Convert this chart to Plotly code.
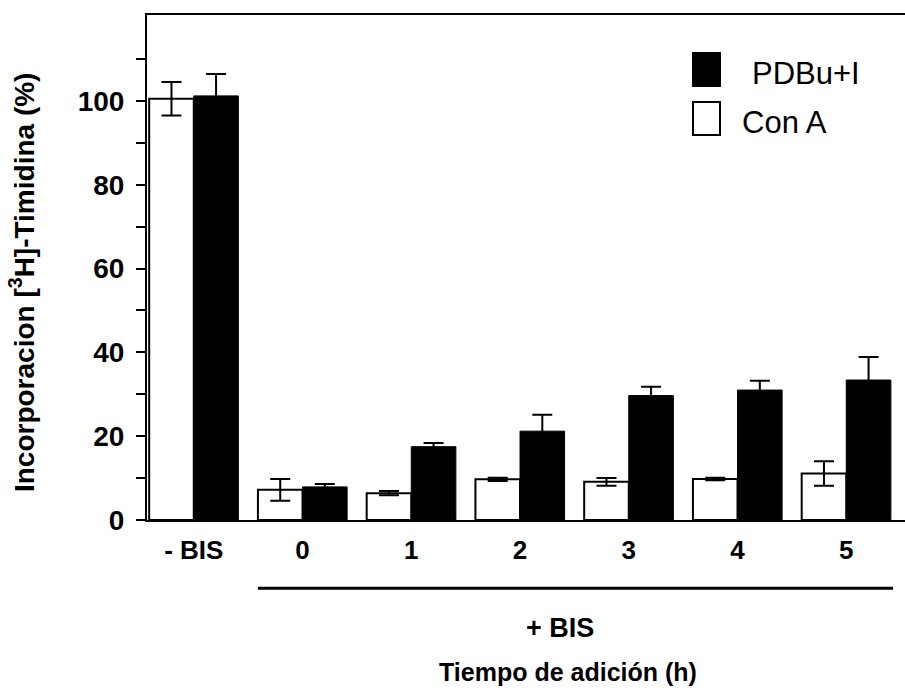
import plotly.graph_objects as go

categories = ["- BIS", "0", "1", "2", "3", "4", "5"]
cona_values = [100.5, 7.2, 6.4, 9.7, 9.1, 9.8, 11.1]
cona_errors = [4.0, 2.6, 0.5, 0.4, 0.9, 0.3, 2.9]
pdbu_values = [101.2, 7.9, 17.5, 21.2, 29.7, 31.0, 33.4]
pdbu_errors = [5.2, 0.7, 0.9, 3.9, 2.1, 2.2, 5.5]
y_tickvals = [0, 20, 40, 60, 80, 100]
y_minorvals = [10, 30, 50, 70, 90, 110]

FONT = "Liberation Sans"

fig = go.Figure()
fig.add_trace(go.Bar(
    x=categories, y=cona_values, name="Con A",
    marker=dict(color="white", line=dict(color="black", width=2)),
    error_y=dict(type="data", array=cona_errors, color="black", thickness=2, width=10),
    showlegend=False,
))
fig.add_trace(go.Bar(
    x=categories, y=pdbu_values, name="PDBu+I",
    marker=dict(color="black", line=dict(color="black", width=1)),
    error_y=dict(type="data", array=pdbu_errors, color="black", thickness=2, width=10),
    showlegend=False,
))

fig.update_layout(
    width=905, height=697,
    margin=dict(l=147, r=0, t=15, b=177),
    paper_bgcolor="white", plot_bgcolor="white",
    barmode="group", bargap=0.18, bargroupgap=0,
    font=dict(family=FONT, color="black"),
)
fig.update_xaxes(
    type="category", range=[-0.43, 6.54],
    showline=True, linecolor="black", linewidth=2, mirror=True,
    ticks="", showgrid=False, zeroline=False,
    tickfont=dict(family=FONT, size=26, color="black", weight="bold"),
    ticklabelstandoff=6,
)
fig.update_yaxes(
    range=[0, 120.5],
    showline=True, linecolor="black", linewidth=2,
    tickvals=y_tickvals, ticks="outside", ticklen=9, tickwidth=2, tickcolor="black",
    minor=dict(tickvals=y_minorvals, ticks="outside", ticklen=9, tickwidth=2, tickcolor="black"),
    showgrid=False, zeroline=False,
    tickfont=dict(family=FONT, size=28, color="black", weight="bold"),
    ticklabelstandoff=6,
)

# "+ BIS" bracket line under categories 0-5
fig.add_shape(type="line", xref="x", yref="paper", x0=0.59, x1=6.43, y0=-0.135, y1=-0.135,
              line=dict(color="black", width=3))

fig.add_annotation(text="+ BIS", xref="paper", yref="paper", x=0.545, y=-0.214,
                   showarrow=False, xanchor="center", yanchor="middle",
                   font=dict(family=FONT, size=27, weight="bold"))
fig.add_annotation(text="Tiempo de adición (h)", xref="paper", yref="paper", x=0.556, y=-0.30,
                   showarrow=False, xanchor="center", yanchor="middle",
                   font=dict(family=FONT, size=25, weight="bold"))
fig.add_annotation(text="Incorporacion [<sup>3</sup>H]-Timidina (%)", xref="paper", yref="paper",
                   x=-0.165, y=0.471, textangle=-90, showarrow=False,
                   xanchor="center", yanchor="middle",
                   font=dict(family=FONT, size=28, weight="bold"))

# Legend (manual, large swatches)
legend_items = [("PDBu+I", "black", 0.0), ("Con A", "white", 1.0)]
for label, color, row in legend_items:
    y_top = 1 - (53 - 15 + row * 49) / 505
    y_bot = y_top - 33 / 505
    fig.add_shape(type="rect", xref="paper", yref="paper",
                  x0=(693 - 147) / 758, x1=(720 - 147) / 758, y0=y_bot, y1=y_top,
                  fillcolor=color, line=dict(color="black", width=2))
    fig.add_annotation(text=label, xref="paper", yref="paper",
                       x=(740 - 147) / 758 if row else (750 - 147) / 758,
                       y=(y_top + y_bot) / 2 - 4 / 505, showarrow=False,
                       xanchor="left", yanchor="middle",
                       font=dict(family=FONT, size=31))

fig.write_html("out.html")
